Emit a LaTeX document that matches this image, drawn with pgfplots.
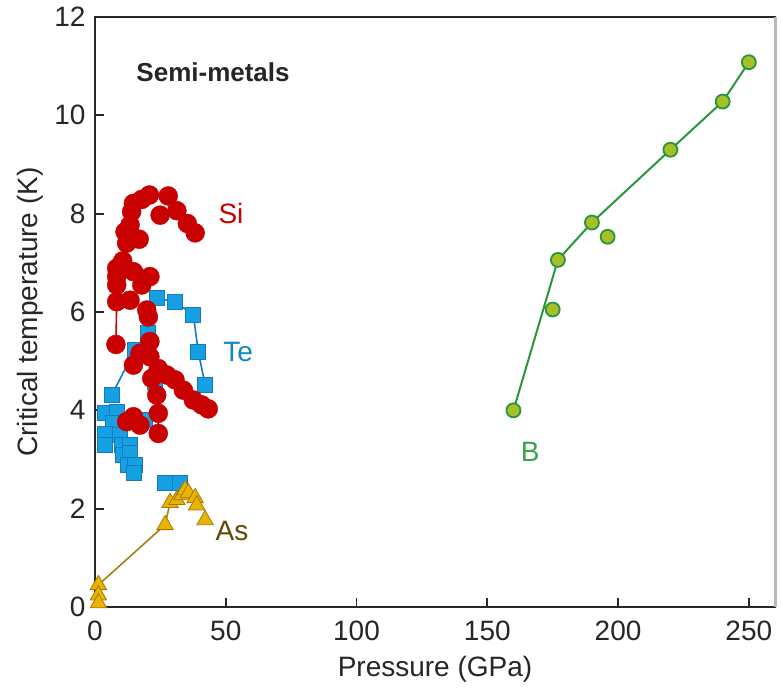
\documentclass[border=0pt]{standalone}
\usepackage{fontspec}
\setmainfont{Liberation Sans}
\usepackage{pgfplots}
\usepackage{pgfplotstable}
\pgfplotsset{compat=1.18}
\definecolor{axisc}{RGB}{40,40,40}
\definecolor{sired}{RGB}{200,0,0}
\definecolor{tefill}{RGB}{20,160,225}
\definecolor{teedge}{RGB}{25,120,195}
\definecolor{asfill}{RGB}{232,180,0}
\definecolor{asedge}{RGB}{170,120,0}
\definecolor{asline}{RGB}{165,128,20}
\definecolor{aslab}{RGB}{95,72,0}
\definecolor{bfill}{RGB}{168,192,40}
\definecolor{bedge}{RGB}{40,150,60}
\definecolor{blab}{RGB}{55,165,70}

\pgfplotstableread{
x y
20.8 8.38
28.0 8.36
17.9 8.29
14.7 8.21
14.0 8.04
24.9 7.97
31.3 8.06
35.3 7.80
38.3 7.61
13.4 7.77
11.5 7.63
16.9 7.48
12.1 7.40
10.6 7.04
8.3 6.89
8.3 6.72
14.7 6.82
21.0 6.72
17.9 6.55
8.3 6.55
8.3 6.21
13.4 6.24
19.8 6.04
20.4 5.90
8.0 5.34
21.0 5.40
17.2 5.16
14.7 4.92
21.0 5.09
24.2 4.85
21.7 4.65
27.4 4.72
30.6 4.62
33.8 4.41
37.6 4.21
40.8 4.11
43.3 4.03
23.6 4.31
24.2 3.94
24.2 3.53
14.7 3.87
17.2 3.70
12.1 3.77
}\sidata

\pgfplotstableread{
x y
23.6 6.28
30.6 6.21
37.6 5.94
20.4 5.57
39.5 5.19
15.3 5.23
42.1 4.52
23.0 4.58
6.4 4.31
3.8 3.94
8.3 3.97
19.1 3.80
7.0 3.74
3.8 3.53
9.6 3.50
3.8 3.29
10.2 3.29
13.4 3.29
10.8 3.09
13.4 3.13
12.7 2.89
15.3 2.89
14.7 2.72
26.8 2.52
32.5 2.52
}\tedata

\pgfplotstableread{
x y
26.8 1.67
28.7 2.12
31.3 2.18
33.2 2.28
34.4 2.38
35.7 2.32
38.3 2.22
38.9 2.07
42.1 1.77
1.3 0.45
1.3 0.24
1.3 0.08
}\asdata

\pgfplotstableread{
x y
160 4.00
175 6.05
177 7.06
190 7.82
196 7.53
220 9.30
240 10.28
250 11.08
}\bdata

\begin{document}
\begin{tikzpicture}
\useasboundingbox (-95pt,-84pt) rectangle (686pt,607pt);
\begin{axis}[
  at={(0,0)}, anchor=south west,
  scale only axis, width=680pt, height=590pt,
  xmin=0, xmax=260, ymin=0, ymax=12,
  xtick={0,50,...,250}, ytick={0,2,...,12},
  tick pos=left, tick align=inside,
  major tick length=9pt,
  axis line style={draw=axisc, line width=2pt},
  every tick/.style={draw=axisc, line width=1.8pt},
  /pgf/number format/assume math mode=true,
  ticklabel style={font=\fontsize{28}{30}\selectfont, text=black!85},
  xticklabel style={yshift=-10pt},
  yticklabel style={xshift=-6pt},
  xlabel={Pressure (GPa)},
  ylabel={Critical temperature (K)},
  label style={font=\fontsize{28}{30}\selectfont, text=black!85},
  ylabel style={at={(axis description cs:-0.0956,0.5)}, anchor=center},
  xlabel style={at={(axis description cs:0.5,0)}, yshift=-62pt, anchor=center},
  clip=false,
]
% Te
\addplot[teedge, line width=1.6pt] coordinates {(6.4,4.31) (15.3,5.23) (20.4,5.57) (23.6,6.28) (30.6,6.21) (37.6,5.94) (39.5,5.19) (42.1,4.52)};
\addplot[only marks, mark=square*, mark size=7.5pt, mark options={fill=tefill, draw=teedge, line width=0.8pt}] table[x=x,y=y] {\tedata};
% As
\addplot[asline, line width=1.6pt] coordinates {(1.3,0.45) (26.8,1.67) (28.7,2.12)};
\addplot[only marks, mark=triangle*, mark size=9.5pt, mark options={fill=asfill, draw=asedge, line width=0.8pt}] table[x=x,y=y] {\asdata};
% Si
\addplot[sired, line width=1.6pt] coordinates {(8.0,5.34) (8.3,6.21)};
\addplot[sired, line width=1.6pt] coordinates {(20.4,5.90) (21.0,5.40)};
\addplot[sired, line width=1.6pt] coordinates {(23.6,4.31) (24.2,3.94) (24.2,3.53)};
\addplot[only marks, mark=*, mark size=9.5pt, mark options={fill=sired, draw=sired}] table[x=x,y=y] {\sidata};
% B
\addplot[bedge, line width=2pt] coordinates {(160,4.00) (177,7.06) (190,7.82) (220,9.30) (240,10.28) (250,11.08)};
\addplot[only marks, mark=*, mark size=7pt, mark options={fill=bfill, draw=bedge, line width=1.8pt}] table[x=x,y=y] {\bdata};
% labels
\node[anchor=west, font=\bfseries\fontsize{26}{28}\selectfont, text=black!85] at (axis cs:14.5,10.88) {Semi-metals};
\node[font=\fontsize{28}{30}\selectfont, text=sired] at (axis cs:52.0,8.01) {Si};
\node[font=\fontsize{28}{30}\selectfont, text=tefill!85!black] at (axis cs:54.7,5.19) {Te};
\node[font=\fontsize{28}{30}\selectfont, text=aslab] at (axis cs:52.4,1.55) {As};
\node[font=\fontsize{28}{30}\selectfont, text=blab] at (axis cs:166.4,3.15) {B};
\draw[gray!55, line width=3pt] (rel axis cs:1,0) -- (rel axis cs:1,1);
\end{axis}
\end{tikzpicture}
\end{document}
